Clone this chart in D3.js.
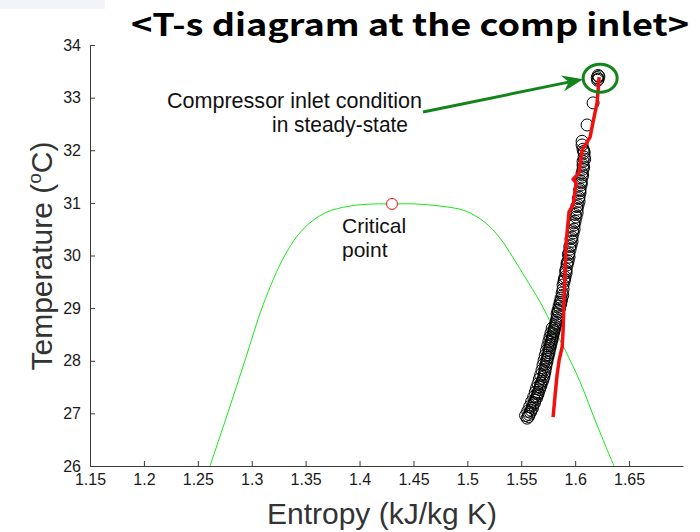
<!DOCTYPE html>
<html>
<head>
<meta charset="utf-8">
<script src="https://cdn.jsdelivr.net/npm/d3@7"></script>
<style>
  body { margin: 0; background: #fff; }
  svg { display: block; font-family: "Liberation Sans", Arial, sans-serif; }
</style>
</head>
<body>
<div class="chart"></div>
<script>
// axis ticks
var xTicks = [1.15, 1.2, 1.25, 1.3, 1.35, 1.4, 1.45, 1.5, 1.55, 1.6, 1.65];
var xTickLabels = ["1.15", "1.2", "1.25", "1.3", "1.35", "1.4", "1.45", "1.5", "1.55", "1.6", "1.65"];
var yTicks = [26, 27, 28, 29, 30, 31, 32, 33, 34];
var yTickLabels = ["26", "27", "28", "29", "30", "31", "32", "33", "34"];

// saturation dome (green)
var domeS = [1.2613, 1.2780, 1.2938, 1.3105, 1.3309, 1.3476, 1.3680, 1.3912, 1.4144, 1.4301,
             1.4515, 1.4746, 1.4978, 1.5163, 1.5303, 1.5414, 1.5534, 1.5674, 1.5794, 1.5915,
             1.6045, 1.6202, 1.6360];
var domeT = [26.00, 27.02, 28.01, 29.06, 30.01, 30.50, 30.81, 30.94, 30.98, 30.98,
             30.98, 30.94, 30.85, 30.63, 30.33, 29.99, 29.59, 29.12, 28.64, 28.17,
             27.60, 26.78, 26.00];

// critical point
var critS = 1.4301;
var critT = 30.98;

// measured states (open circles)
var measS = [1.5554, 1.5572, 1.5591, 1.5610, 1.5628, 1.5647, 1.5656, 1.5674, 1.5684, 1.5702,
             1.5712, 1.5721, 1.5730, 1.5739, 1.5749, 1.5758, 1.5767, 1.5776, 1.5786, 1.5795,
             1.5804, 1.5814, 1.5823, 1.5832, 1.5832, 1.5841, 1.5851, 1.5860, 1.5869, 1.5879,
             1.5888, 1.5888, 1.5897, 1.5906, 1.5916, 1.5916, 1.5925, 1.5934, 1.5943, 1.5943,
             1.5953, 1.5962, 1.5971, 1.5971, 1.5981, 1.5990, 1.5990, 1.5999, 1.6008, 1.6018,
             1.6018, 1.6027, 1.6036, 1.6036, 1.6045, 1.6045, 1.6055, 1.6055, 1.6064, 1.6064,
             1.6073, 1.6073, 1.6073, 1.6083, 1.6083, 1.6073, 1.6064, 1.6064, 1.6110, 1.6166,
             1.6213, 1.6205, 1.6220, 1.6213, 1.6208,
             1.5566, 1.5585, 1.5603, 1.5622, 1.5640, 1.5655, 1.5668, 1.5682, 1.5695, 1.5710,
             1.5719, 1.5728, 1.5738, 1.5747, 1.5757, 1.5766, 1.5774, 1.5784, 1.5793, 1.5802,
             1.5810, 1.5820, 1.5828, 1.5838, 1.5845, 1.5856, 1.5866, 1.5873, 1.5884,
             1.5540, 1.5560, 1.5578, 1.5596, 1.5615, 1.5630, 1.5642, 1.5655, 1.5668, 1.5680,
             1.5692, 1.5702, 1.5712, 1.5722, 1.5733, 1.5745, 1.5756, 1.5766, 1.5776, 1.5787,
             1.5900, 1.5912, 1.5925, 1.5938, 1.5950, 1.5962, 1.5975, 1.5988, 1.6000, 1.6015,
             1.6030, 1.6042, 1.6055, 1.6068, 1.6078, 1.6088, 1.6080];
var measT = [26.91, 26.98, 27.06, 27.16, 27.25, 27.33, 27.40, 27.50, 27.57, 27.65,
             27.75, 27.84, 27.94, 28.03, 28.11, 28.20, 28.28, 28.35, 28.43, 28.51,
             28.58, 28.66, 28.73, 28.81, 28.89, 28.96, 29.04, 29.11, 29.19, 29.29,
             29.36, 29.44, 29.51, 29.59, 29.67, 29.74, 29.82, 29.89, 29.97, 30.05,
             30.12, 30.20, 30.27, 30.35, 30.43, 30.50, 30.58, 30.65, 30.73, 30.81,
             30.88, 30.96, 31.03, 31.11, 31.19, 31.26, 31.34, 31.41, 31.49, 31.57,
             31.64, 31.72, 31.79, 31.87, 31.95, 32.02, 32.10, 32.17, 32.48, 32.90,
             33.35, 33.38, 33.40, 33.42, 33.33,
             26.94, 27.02, 27.10, 27.20, 27.29, 27.37, 27.45, 27.53, 27.61, 27.70,
             27.79, 27.89, 27.98, 28.07, 28.15, 28.24, 28.31, 28.39, 28.47, 28.55,
             28.62, 28.70, 28.77, 28.85, 28.93, 29.00, 29.08, 29.15, 29.24,
             26.96, 27.04, 27.13, 27.22, 27.31, 27.40, 27.48, 27.56, 27.65, 27.73,
             27.82, 27.92, 28.01, 28.10, 28.19, 28.28, 28.37, 28.45, 28.53, 28.62,
             29.55, 29.70, 29.86, 30.02, 30.17, 30.32, 30.47, 30.62, 30.78, 30.93,
             31.08, 31.23, 31.38, 31.53, 31.68, 31.83, 31.98];

// model trajectory (red)
var modelS = [1.5795, 1.5814, 1.5832, 1.5851, 1.5879, 1.5888, 1.5897, 1.5906, 1.5916, 1.5943,
              1.5981, 1.6008, 1.5981, 1.6036, 1.6064, 1.6138, 1.6166, 1.6203, 1.6222];
var modelT = [26.93, 27.35, 27.73, 28.01, 28.26, 28.58, 29.15, 29.67, 30.24, 30.83,
              30.96, 31.38, 31.45, 31.57, 32.00, 32.25, 32.54, 32.90, 33.39];

var svgWidth = 700;
var svgHeight = 532;

var svg = d3.select(".chart")
  .append("svg")
  .attr("width", svgWidth)
  .attr("height", svgHeight);

// faint box top-left corner
svg.append("rect")
  .attr("x", 0).attr("y", 0)
  .attr("width", 105).attr("height", 9)
  .attr("fill", "#f2f4f7");

var x = d3.scaleLinear().domain([1.15, 1.7]).range([90, 683]);
var y = d3.scaleLinear().domain([26, 34]).range([466, 45]);

// axes
var xAxis = svg.append("g")
  .attr("transform", "translate(0,466)")
  .call(d3.axisBottom(x)
    .tickValues(xTicks)
    .tickFormat((d, i) => xTickLabels[i])
    .tickSizeInner(-5)
    .tickSizeOuter(0)
    .tickPadding(8));

var yAxis = svg.append("g")
  .attr("transform", "translate(90,0)")
  .call(d3.axisLeft(y)
    .tickValues(yTicks)
    .tickFormat((d, i) => yTickLabels[i])
    .tickSizeInner(-5)
    .tickSizeOuter(0)
    .tickPadding(9));

[xAxis, yAxis].forEach(function(g) {
  g.select(".domain").attr("stroke", "#3a3a3a");
  g.selectAll(".tick line").attr("stroke", "#3a3a3a");
  g.selectAll(".tick text")
    .attr("fill", "#1a1a1a")
    .style("font-size", "16px")
    .style("font-family", "'Liberation Sans', Arial, sans-serif");
});

// saturation dome
var dome = domeS.map((s, i) => [s, domeT[i]]);
svg.append("path")
  .datum(dome)
  .attr("fill", "none")
  .attr("stroke", "#18e818")
  .attr("stroke-width", 1)
  .attr("d", d3.line().x(d => x(d[0])).y(d => y(d[1])).curve(d3.curveCatmullRom.alpha(0.5)));

// critical point
svg.append("circle")
  .attr("cx", x(critS))
  .attr("cy", y(critT))
  .attr("r", 5.5)
  .attr("fill", "#fff")
  .attr("stroke", "#ee1111")
  .attr("stroke-width", 1);

// measured circles
var meas = measS.map((s, i) => [s, measT[i]]);
svg.append("g").selectAll("circle")
  .data(meas)
  .enter()
  .append("circle")
  .attr("cx", d => x(d[0]))
  .attr("cy", d => y(d[1]))
  .attr("r", 6)
  .attr("fill", "none")
  .attr("stroke", "#000")
  .attr("stroke-width", 1);

// red trajectory
var model = modelS.map((s, i) => [s, modelT[i]]);
svg.append("path")
  .datum(model)
  .attr("fill", "none")
  .attr("stroke", "#f01010")
  .attr("stroke-width", 3.5)
  .attr("stroke-linejoin", "round")
  .attr("d", d3.line().x(d => x(d[0])).y(d => y(d[1])));

// annotation: ellipse + arrow
var ecx = x(1.6213) + 2;
var ecy = y(33.37);
var green = "#12841a";
svg.append("ellipse")
  .attr("cx", ecx).attr("cy", ecy)
  .attr("rx", 17).attr("ry", 14)
  .attr("fill", "none")
  .attr("stroke", green)
  .attr("stroke-width", 3);

var ax0 = 423, ay0 = 112;
var ax1 = ecx - 17, ay1 = ecy + 1;
var len = Math.hypot(ax1 - ax0, ay1 - ay0);
var ux = (ax1 - ax0) / len, uy = (ay1 - ay0) / len;
var nx = -uy, ny = ux;
var hl = 21, hw = 8;
svg.append("line")
  .attr("x1", ax0).attr("y1", ay0)
  .attr("x2", ax1 - ux * hl * 0.7).attr("y2", ay1 - uy * hl * 0.7)
  .attr("stroke", green)
  .attr("stroke-width", 3);
svg.append("path")
  .attr("d", "M" + ax1 + "," + ay1 +
    "L" + (ax1 - ux * hl + nx * hw) + "," + (ay1 - uy * hl + ny * hw) +
    "L" + (ax1 - ux * hl * 0.7) + "," + (ay1 - uy * hl * 0.7) +
    "L" + (ax1 - ux * hl - nx * hw) + "," + (ay1 - uy * hl - ny * hw) + "Z")
  .attr("fill", green);

// annotation texts
svg.append("text")
  .attr("x", 167).attr("y", 108)
  .style("font-size", "22px")
  .attr("textLength", 255)
  .attr("lengthAdjust", "spacingAndGlyphs")
  .attr("fill", "#111")
  .text("Compressor inlet condition");
svg.append("text")
  .attr("x", 272).attr("y", 132)
  .style("font-size", "22px")
  .attr("textLength", 136)
  .attr("lengthAdjust", "spacingAndGlyphs")
  .attr("fill", "#111")
  .text("in steady-state");

svg.append("text")
  .attr("x", 342).attr("y", 233)
  .style("font-size", "21px")
  .attr("fill", "#111")
  .text("Critical");
svg.append("text")
  .attr("x", 342).attr("y", 257)
  .style("font-size", "21px")
  .attr("fill", "#111")
  .text("point");

// axis titles
svg.append("text")
  .attr("x", 382).attr("y", 524)
  .attr("text-anchor", "middle")
  .style("font-size", "30px")
  .attr("fill", "#333")
  .text("Entropy (kJ/kg K)");

var yl = svg.append("text")
  .attr("transform", "translate(52,256) rotate(-90)")
  .attr("text-anchor", "middle")
  .style("font-size", "30px")
  .attr("fill", "#333");
yl.append("tspan").text("Temperature (");
yl.append("tspan").attr("dy", -11).style("font-size", "19px").text("o");
yl.append("tspan").attr("dy", 11).text("C)");

// title
svg.append("text")
  .attr("x", 410).attr("y", 36)
  .attr("text-anchor", "middle")
  .style("font-family", "'Noto Sans CJK KR', 'Noto Sans', sans-serif")
  .style("font-weight", "bold")
  .style("font-size", "31px")
  .attr("textLength", 558)
  .attr("lengthAdjust", "spacingAndGlyphs")
  .attr("fill", "#000")
  .text("<T-s diagram at the comp inlet>");
</script>
</body>
</html>
